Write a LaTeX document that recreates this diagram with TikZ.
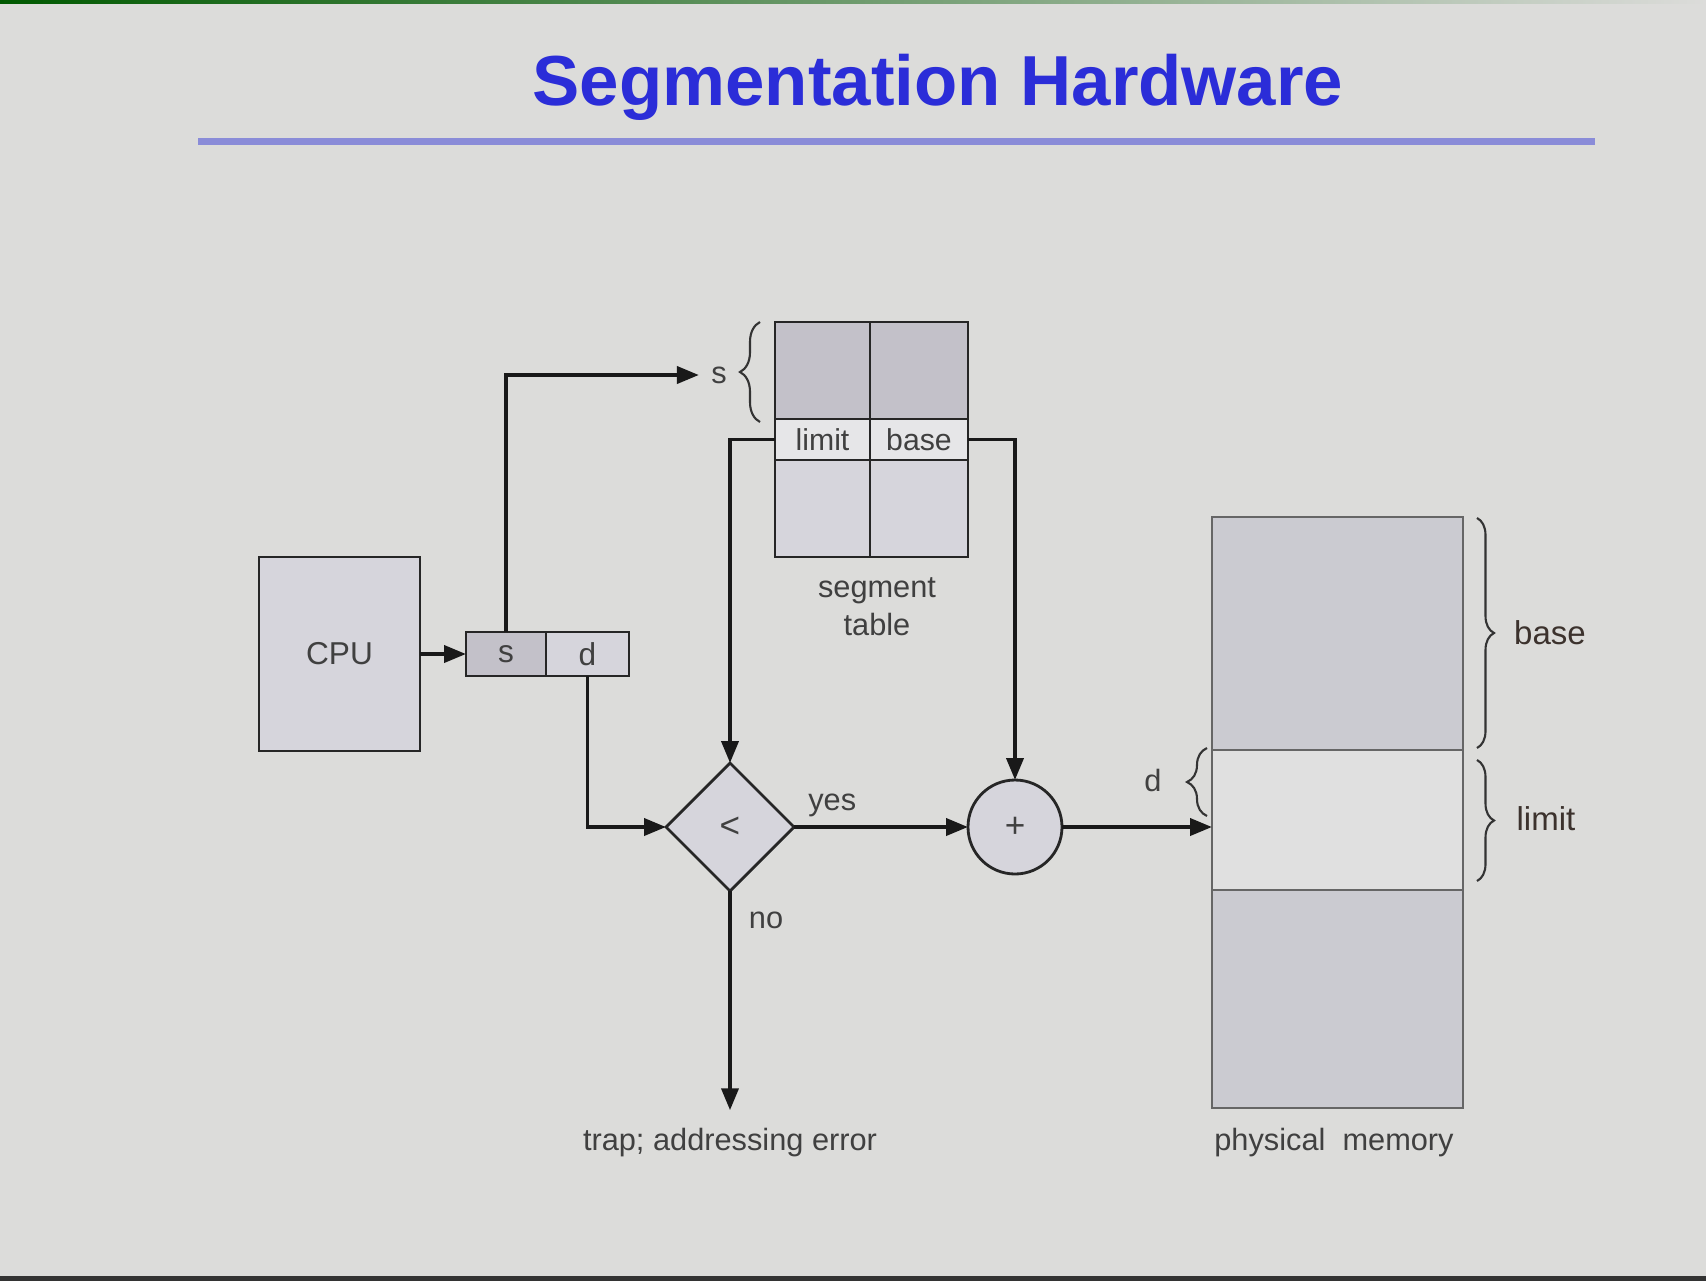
\documentclass[tikz,border=0pt]{standalone}
\usepackage{fontspec}
\setmainfont{Liberation Sans}
\usetikzlibrary{shapes.geometric, arrows.meta, positioning, decorations.pathreplacing}

\definecolor{slidebg}{HTML}{DCDCDA}
\definecolor{titleblue}{HTML}{2B2DD8}
\definecolor{ruleblue}{HTML}{8A8CD8}
\definecolor{boxfill}{HTML}{D6D5DC}
\definecolor{darkcell}{HTML}{C3C1C9}
\definecolor{lightcell}{HTML}{E6E6E8}
\definecolor{memfill}{HTML}{CBCBD1}
\definecolor{memlight}{HTML}{E0E0E0}
\definecolor{txtgray}{HTML}{404040}
\definecolor{txtbrown}{HTML}{3C322D}

\begin{document}
\begin{tikzpicture}[
    box/.style={rectangle, draw=black!85, line width=0.8pt, fill=boxfill, inner sep=0pt, outer sep=0pt, font=\fontsize{9}{11}\selectfont, text=txtgray},
    cell/.style={box, fill=darkcell},
    tabcell/.style={box, fill=lightcell, font=\fontsize{8.6}{10}\selectfont},
    memcell/.style={rectangle, draw=black!60, line width=0.6pt, fill=memfill, minimum width=2.51cm, inner sep=0pt, outer sep=0pt},
    arr/.style={-{Triangle[length=2.2mm, width=1.7mm]}, line width=1.1pt, draw=black!90},
    labeltext/.style={font=\fontsize{8.75}{10.8}\selectfont, text=txtgray, align=center},
    sidetext/.style={font=\fontsize{9.4}{11}\selectfont, text=txtbrown},
    bracedeco/.style={decorate, decoration={brace, amplitude=#1}, line width=0.6pt, draw=black!80}
]

    % --- Slide Background ---
    \fill[slidebg] (0,0) rectangle (17.06,-12.81);
    \shade[left color=green!35!black, right color=slidebg] (0,0) rectangle (17.06,-0.03);
    \fill[black!80] (0,-12.76) rectangle (17.06,-12.81);
    \useasboundingbox (0,0) rectangle (17.06,-12.81);

    % --- Title ---
    \node[font=\fontsize{20.15}{24}\selectfont\bfseries, text=titleblue] (title) at (9.38,-0.87) {Segmentation Hardware};
    \fill[ruleblue] (1.98,-1.375) rectangle (15.95,-1.445);

    % --- CPU and Logical Address ---
    \node[box, minimum width=1.61cm, minimum height=1.94cm] (cpu) at (3.395,-6.54) {CPU};
    \node[box, fill=darkcell, minimum width=0.80cm, minimum height=0.44cm] (regs) at (5.06,-6.54) {s};
    \node[box, minimum width=0.83cm, minimum height=0.44cm] (regd) at (5.875,-6.54) {d};

    % --- Segment Table ---
    \node[cell, minimum width=0.95cm, minimum height=0.97cm] (stopl) at (8.225,-3.705) {};
    \node[cell, minimum width=0.98cm, minimum height=0.97cm] (stopr) at (9.19,-3.705) {};
    \node[tabcell, minimum width=0.95cm, minimum height=0.41cm] (lim) at (8.225,-4.395) {limit};
    \node[tabcell, minimum width=0.98cm, minimum height=0.41cm] (bas) at (9.19,-4.395) {base};
    \node[box, minimum width=0.95cm, minimum height=0.97cm] (sbotl) at (8.225,-5.085) {};
    \node[box, minimum width=0.98cm, minimum height=0.97cm] (sbotr) at (9.19,-5.085) {};
    \node[labeltext] (stname) at (8.77,-6.07) {segment\\table};

    \node[labeltext] (slab) at (7.19,-3.75) {s};
    \draw[bracedeco=0.2cm] (7.60,-4.22) -- (7.60,-3.22);

    % --- Compare and Add ---
    \node[diamond, draw=black!85, line width=0.8pt, fill=boxfill, minimum width=1.28cm, minimum height=1.28cm, inner sep=0pt, outer sep=0pt, font=\fontsize{10}{12}\selectfont, text=txtgray] (cmp) at (7.30,-8.27) {<};
    \node[circle, draw=black!85, line width=0.8pt, fill=boxfill, minimum size=0.94cm, inner sep=0pt, outer sep=0pt, font=\fontsize{10}{12}\selectfont, text=txtgray] (add) at (10.15,-8.27) {+};
    \node[labeltext] (trap) at (7.30,-11.43) {trap; addressing error};

    % --- Physical Memory ---
    \node[memcell, minimum height=2.33cm] (memtop) at (13.375,-6.335) {};
    \node[memcell, fill=memlight, minimum height=1.40cm] (memmid) at (13.375,-8.20) {};
    \node[memcell, minimum height=2.18cm] (membot) at (13.375,-9.99) {};
    \node[labeltext] (memname) at (13.34,-11.43) {physical\ \ memory};

    \draw[bracedeco=0.2cm] (12.07,-8.16) -- (12.07,-7.48);
    \node[labeltext] (dlab) at (11.53,-7.80) {d};
    \draw[bracedeco=0.17cm] (14.77,-5.18) -- (14.77,-7.48);
    \node[sidetext] (baselab) at (15.50,-6.33) {base};
    \draw[bracedeco=0.17cm] (14.77,-7.60) -- (14.77,-8.81);
    \node[sidetext] (limitlab) at (15.46,-8.19) {limit};

    % --- Connectors ---
    \draw[arr] (cpu.east) -- (regs.west);
    \draw[arr] (regs.north) |- (slab.west);
    \draw[arr] (lim.west) -| (cmp.north);
    \draw[arr] (bas.east) -| (add.north);
    \draw[arr] (regd.south) |- (cmp.west);
    \draw[arr] (cmp.east) -- node[labeltext, pos=0.22, above=-1pt] {yes} (add.west);
    \draw[arr, shorten >=0.06cm] (cmp.south) -- node[labeltext, pos=0.13, right=1.5pt] {no} (trap.north);
    \draw[arr] (add.east) -- (add.east -| memmid.west);

\end{tikzpicture}
\end{document}
